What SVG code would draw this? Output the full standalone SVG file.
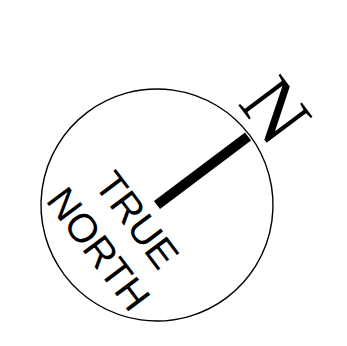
<svg xmlns="http://www.w3.org/2000/svg" width="347" height="346" viewBox="0 0 347 346">
  <style>
    .ring { fill: none; stroke: #000; stroke-width: 1.4; }
    .sans { font-family: "Liberation Sans", Arial, sans-serif; font-size: 40px; fill: #000; text-anchor: middle; }
    .serif { font-family: "Liberation Serif", "Times New Roman", serif; font-size: 80px; fill: #000; text-anchor: middle; }
  </style>
  <rect width="347" height="346" fill="#fff"/>
  <g id="compass" transform="translate(157 205) rotate(53)">
    <circle id="ring" class="ring" cx="0" cy="0" r="116"/>
    <rect id="needle" x="-5" y="-114" width="10" height="114" fill="#000"/>
    <text id="n-label" class="serif" x="-4" y="-125">N</text>
    <text id="true-label" class="sans" x="0" y="38.7">TRUE</text>
    <text id="north-label" class="sans" x="0" y="87">NORTH</text>
  </g>
</svg>
